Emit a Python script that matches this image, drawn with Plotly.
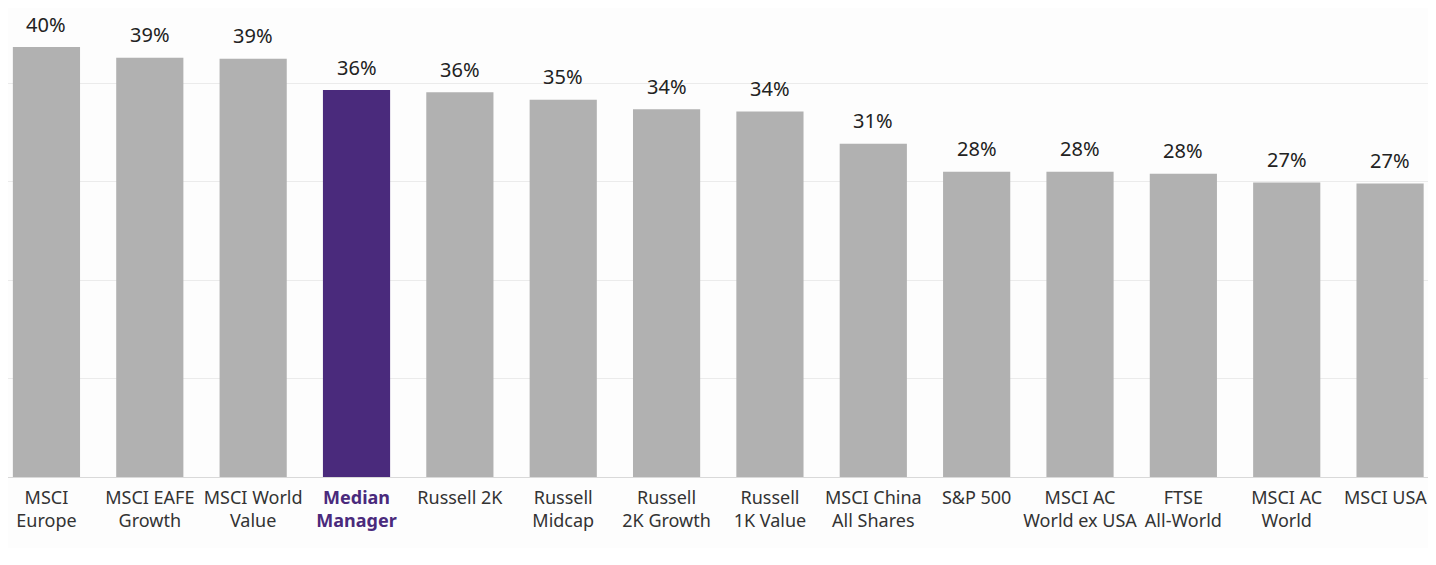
import plotly.graph_objects as go

# categories and values
categorias = [
    'MSCI<br>Europe', 'MSCI EAFE<br>Growth', 'MSCI World<br>Value', 'Median<br>Manager',
    'Russell 2K', 'Russell<br>Midcap', 'Russell<br>2K Growth', 'Russell<br>1K Value',
    'MSCI China<br>All Shares', 'S&P 500', 'MSCI AC<br>World ex USA', 'FTSE<br>All-World',
    'MSCI AC<br>World', 'MSCI USA',
]
valores = [40.0, 39.0, 38.9, 36.0, 35.8, 35.1, 34.2, 34.0, 31.0, 28.4, 28.4, 28.2, 27.4, 27.3]
rotulos = ['40%', '39%', '39%', '36%', '36%', '35%', '34%', '34%', '31%', '28%', '28%', '28%', '27%', '27%']
destaque = 'Median<br>Manager'

cinza = '#b1b1b1'
roxo = '#4a2a7c'

cores = [roxo if c == destaque else cinza for c in categorias]
ticks = [
    f"<b><span style='color:{roxo}'>{c}</span></b>" if c == destaque else c
    for c in categorias
]
# nudge the last label left a little so it isn't cut at the window edge
ticks[-1] = ticks[-1] + '\u00a0\u00a0'

fig = go.Figure(go.Bar(
    x=list(range(len(categorias))),
    y=valores,
    marker=dict(color=cores, line=dict(width=0)),
))

# value labels above the bars
for i, (v, r) in enumerate(zip(valores, rotulos)):
    fig.add_annotation(
        x=i, y=v, text=r, showarrow=False,
        yanchor='middle', yshift=23,
        font=dict(size=20, color='#222222'),
    )

# page has an 8px body margin, so the figure is sized to fit the window
fig.update_layout(
    width=1428, height=540,
    margin=dict(l=0, r=0, t=0, b=71),
    paper_bgcolor='#fdfdfd',
    plot_bgcolor='#fdfdfd',
    bargap=0.35,
    showlegend=False,
    font=dict(family='Noto Sans, sans-serif', color='#333333'),
)

fig.update_xaxes(
    tickmode='array',
    tickvals=list(range(len(categorias))),
    ticktext=ticks,
    tickfont=dict(size=18, color='#333333'),
    ticklabelstandoff=4,
    ticklabeloverflow='allow',
    range=[-0.372, 13.425],
    showgrid=False,
    showline=True, linecolor='#d9d9d9', linewidth=1,
    ticks='',
)

fig.update_yaxes(
    range=[0, 43.63],
    tick0=0, dtick=9.16,
    showticklabels=False,
    gridcolor='#ebebeb', gridwidth=1,
    zeroline=False,
)

fig.write_html('out.html')
